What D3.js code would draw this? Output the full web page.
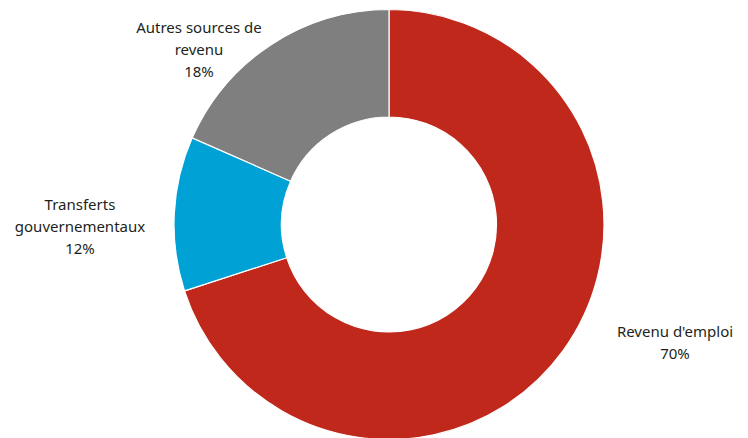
<!DOCTYPE html>
<html>
<head>
<meta charset="utf-8">
<script src="https://cdn.jsdelivr.net/npm/d3@7"></script>
<style>
  body { margin: 0; background: #fff; }
  svg text { font-family: "Noto Sans", "Open Sans", sans-serif; font-size: 15px; fill: #231f20; }
</style>
</head>
<body>
<svg id="chart" width="748" height="438"></svg>
<script>
// data (shares, labels rounded)
var categories = ["Revenu d'emploi", "Transferts gouvernementaux", "Autres sources de revenu"];
var values = [70.0, 11.6, 18.4];
var colors = ["#c0281c", "#00a1d4", "#7f7f7f"];
// label lines as in the figure (name part)
var labelLines = [["Revenu d'emploi"], ["Transferts", "gouvernementaux"], ["Autres sources de", "revenu"]];

var svg = d3.select("#chart");
var cx = 389, cy = 224.5, outerR = 215, innerR = 107.5;

var pie = d3.pie().sort(null).value(function(d){ return d; });
var arc = d3.arc().innerRadius(innerR).outerRadius(outerR);
var arcs = pie(values);

var g = svg.append("g").attr("transform", "translate(" + cx + "," + cy + ")");

g.selectAll("path")
  .data(arcs)
  .enter().append("path")
    .attr("d", arc)
    .attr("fill", function(d, i){ return colors[i]; })
    .attr("stroke", "#fff")
    .attr("stroke-width", 1.2);

// label anchors (first baseline), placed by hand like the original
var labelPos = [[675, 337], [80, 210], [199, 33]];

labelLines.forEach(function(lines, i){
  var t = svg.append("text")
    .attr("x", labelPos[i][0])
    .attr("y", labelPos[i][1])
    .attr("text-anchor", "middle");
  lines.concat([Math.round(values[i]) + "%"]).forEach(function(s, j){
    t.append("tspan")
      .attr("x", labelPos[i][0])
      .attr("dy", j == 0 ? 0 : 22)
      .text(s);
  });
});
</script>
</body>
</html>
